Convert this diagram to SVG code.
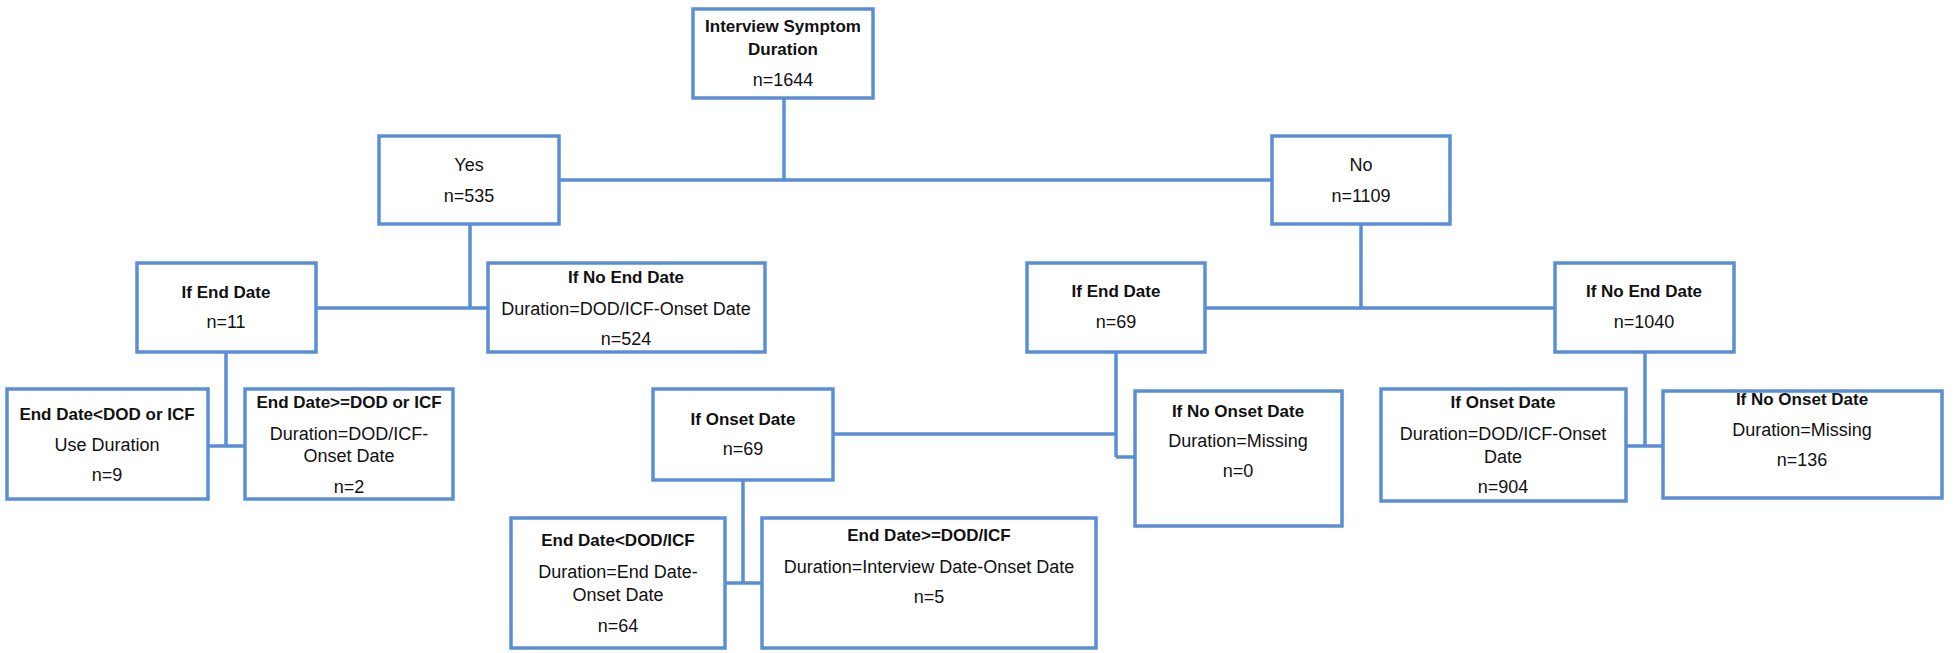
<svg xmlns="http://www.w3.org/2000/svg" width="1955" height="653" viewBox="0 0 1955 653">
  <style>
    .box { fill: #ffffff; stroke: #5A8FD6; stroke-width: 3.5; }
    .wire { fill: none; stroke: #5A8FD6; stroke-width: 3.5; }
    text { font-family: "Liberation Sans", Arial, sans-serif; font-size: 18px; fill: #111111; text-anchor: middle; }
    .b { font-weight: bold; font-size: 17px; }
  </style>
  <rect width="1955" height="653" fill="#ffffff"/>

  <!-- connectors drawn first so boxes sit on top -->
  <g id="connectors">
    <path class="wire" d="M784,98 V180 M559,180 H1272"/>
    <path class="wire" d="M470,224 V308 M316,308 H488"/>
    <path class="wire" d="M226,352 V446 M208,446 H245"/>
    <path class="wire" d="M1361,222 V308 M1205,308 H1555"/>
    <path class="wire" d="M1116,352 V457 M833,434 H1116 M1116,457 H1135"/>
    <path class="wire" d="M743,480 V583 M725,583 H762"/>
    <path class="wire" d="M1645,352 V446 M1626,446 H1663"/>
  </g>

  <g id="root">
    <rect class="box" x="693" y="9" width="180" height="89"/>
    <text class="b" x="783" y="32">Interview Symptom</text>
    <text class="b" x="783" y="55">Duration</text>
    <text x="783" y="86">n=1644</text>
  </g>

  <g id="yes">
    <rect class="box" x="379" y="136" width="180" height="88"/>
    <text x="469" y="171">Yes</text>
    <text x="469" y="202">n=535</text>
  </g>

  <g id="no">
    <rect class="box" x="1272" y="136" width="178" height="88"/>
    <text x="1361" y="171">No</text>
    <text x="1361" y="202">n=1109</text>
  </g>

  <g id="yes-end-date">
    <rect class="box" x="137" y="263" width="179" height="89"/>
    <text class="b" x="226" y="298">If End Date</text>
    <text x="226" y="328">n=11</text>
  </g>

  <g id="yes-no-end-date">
    <rect class="box" x="488" y="263" width="277" height="89"/>
    <text class="b" x="626" y="283">If No End Date</text>
    <text x="626" y="315">Duration=DOD/ICF-Onset Date</text>
    <text x="626" y="345">n=524</text>
  </g>

  <g id="yes-end-before">
    <rect class="box" x="7" y="389" width="201" height="110"/>
    <text class="b" x="107" y="420">End Date&lt;DOD or ICF</text>
    <text x="107" y="451">Use Duration</text>
    <text x="107" y="481">n=9</text>
  </g>

  <g id="yes-end-after">
    <rect class="box" x="245" y="389" width="208" height="110"/>
    <text class="b" x="349" y="408">End Date&gt;=DOD or ICF</text>
    <text x="349" y="440">Duration=DOD/ICF-</text>
    <text x="349" y="462">Onset Date</text>
    <text x="349" y="493">n=2</text>
  </g>

  <g id="no-end-date">
    <rect class="box" x="1027" y="263" width="178" height="89"/>
    <text class="b" x="1116" y="297">If End Date</text>
    <text x="1116" y="328">n=69</text>
  </g>

  <g id="no-no-end-date">
    <rect class="box" x="1555" y="263" width="179" height="89"/>
    <text class="b" x="1644" y="297">If No End Date</text>
    <text x="1644" y="328">n=1040</text>
  </g>

  <g id="no-end-onset">
    <rect class="box" x="653" y="389" width="180" height="91"/>
    <text class="b" x="743" y="425">If Onset Date</text>
    <text x="743" y="455">n=69</text>
  </g>

  <g id="no-end-no-onset">
    <rect class="box" x="1135" y="391" width="207" height="135"/>
    <text class="b" x="1238" y="417">If No Onset Date</text>
    <text x="1238" y="447">Duration=Missing</text>
    <text x="1238" y="477">n=0</text>
  </g>

  <g id="onset-end-before">
    <rect class="box" x="511" y="518" width="214" height="130"/>
    <text class="b" x="618" y="546">End Date&lt;DOD/ICF</text>
    <text x="618" y="578">Duration=End Date-</text>
    <text x="618" y="601">Onset Date</text>
    <text x="618" y="632">n=64</text>
  </g>

  <g id="onset-end-after">
    <rect class="box" x="762" y="518" width="334" height="130"/>
    <text class="b" x="929" y="541">End Date&gt;=DOD/ICF</text>
    <text x="929" y="573">Duration=Interview Date-Onset Date</text>
    <text x="929" y="603">n=5</text>
  </g>

  <g id="no-end-onset-right">
    <rect class="box" x="1381" y="389" width="245" height="112"/>
    <text class="b" x="1503" y="408">If Onset Date</text>
    <text x="1503" y="440">Duration=DOD/ICF-Onset</text>
    <text x="1503" y="463">Date</text>
    <text x="1503" y="493">n=904</text>
  </g>

  <g id="no-end-no-onset-right">
    <rect class="box" x="1663" y="391" width="279" height="107"/>
    <text class="b" x="1802" y="405">If No Onset Date</text>
    <text x="1802" y="436">Duration=Missing</text>
    <text x="1802" y="466">n=136</text>
  </g>
</svg>
